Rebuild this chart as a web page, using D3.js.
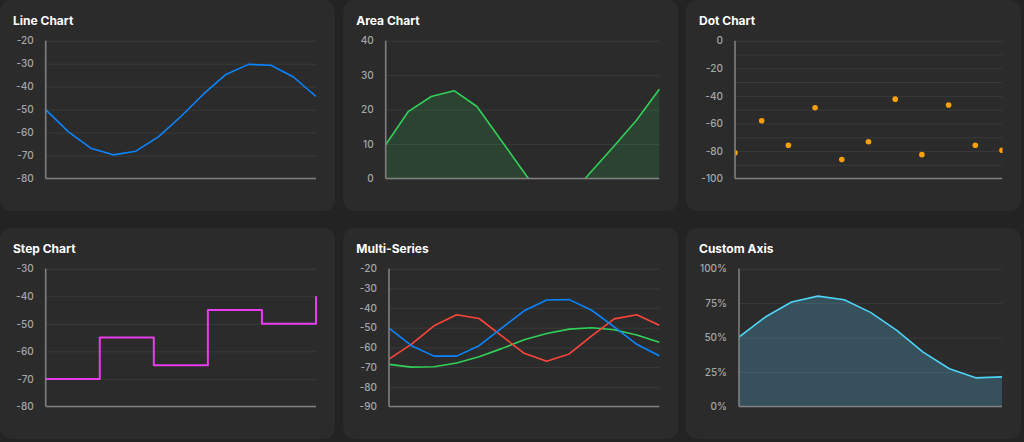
<!DOCTYPE html>
<html>
<head>
<meta charset="utf-8">
<script src="https://cdn.jsdelivr.net/npm/d3@7"></script>
<style>
html, body { margin: 0; padding: 0; background: #232323; }
svg { display: block; font-family: Inter, "Liberation Sans", sans-serif; }
</style>
</head>
<body>
<svg id="chart" width="1024" height="442"></svg>
<script>
// values
const titles = ["Line Chart", "Area Chart", "Dot Chart", "Step Chart", "Multi-Series", "Custom Axis"];

const lineValues = [-50, -59.6, -66.8, -69.7, -68.1, -61.9, -53, -43.3, -34.7, -30.3, -30.7, -35.8, -44.3];
const lineTicks = [-20, -30, -40, -50, -60, -70, -80];

const areaValues = [9.8, 19.5, 23.8, 25.5, 20.9, 11.7, 2.4, -6.8, -5.6, 1.9, 9.3, 16.9, 25.9];
const areaTicks = [0, 10, 20, 30, 40];

const dotValues = [-81.4, -58.1, -75.9, -48.7, -86.3, -73.3, -42.4, -82.7, -46.7, -75.9, -79.5];
const dotTicks = [0, -20, -40, -60, -80, -100];
const dotGrid = [0, -10, -20, -30, -40, -50, -60, -70, -80, -90, -100];

const stepValues = [-70, -55, -65, -45, -50, -40];
const stepTicks = [-30, -40, -50, -60, -70, -80];

const multiBlue = [-50.2, -59.1, -64.4, -64.4, -59.1, -50.2, -41.4, -35.9, -35.7, -41.1, -49.5, -58.4, -64.2];
const multiRed = [-65.9, -58.3, -49, -43.4, -45.3, -54.1, -63, -67, -63.3, -54.1, -45.5, -43.4, -48.7];
const multiGreen = [-68.6, -70, -69.8, -67.9, -64.7, -60.6, -56.1, -52.9, -50.7, -50, -51, -53.7, -57.4];
const multiTicks = [-20, -30, -40, -50, -60, -70, -80, -90];

const customValues = [0.504, 0.649, 0.758, 0.801, 0.775, 0.683, 0.552, 0.395, 0.274, 0.208, 0.215];
const customTicks = [0, 0.25, 0.5, 0.75, 1];

let cardW = 335;
let cardH = 211;
let cardX = [0, 343.3, 686];
let cardY = [0, 228];

let svg = d3.select("#chart");

let plainFmt = (d) => String(d);
let pctFmt = (d) => Math.round(d * 100) + "%";

// draws a card with its gridlines and axes, hands back the scales
let makePanel = (i, left, ticks, grid, fmt, n, clipPad) => {
    let cx = cardX[i % 3];
    let cy = cardY[Math.floor(i / 3)];
    let g = svg.append("g").attr("transform", "translate(" + cx + "," + cy + ")");

    g.append("rect")
    .attr("width", cardW)
    .attr("height", cardH)
    .attr("rx", 11)
    .attr("fill", "#2b2b2b");

    g.append("text")
    .attr("x", 13)
    .attr("y", 24.5)
    .attr("fill", "#ffffff")
    .attr("font-size", 12)
    .attr("font-weight", 700)
    .text(titles[i]);

    let top = 40.7;
    let bottom = 178.5;
    let right = 316;

    let x = d3.scaleLinear()
    .domain([0, n - 1])
    .range([left, right]);

    let y = d3.scaleLinear()
    .domain(d3.extent(ticks))
    .range([bottom, top]);

    let yAxis = d3.axisLeft(y)
    .tickValues(grid)
    .tickSize(-(right - left))
    .tickPadding(12)
    .tickFormat((d) => ticks.includes(d) ? fmt(d) : "");

    let ax = g.append("g")
    .attr("transform", "translate(" + left + ",0)")
    .call(yAxis);
    ax.select(".domain").remove();
    ax.selectAll(".tick line").attr("stroke", "#3a3a3a").attr("stroke-width", 1);
    ax.selectAll(".tick text")
    .attr("fill", "#a6a6a6")
    .attr("font-size", 10)
    .attr("font-weight", 500)
    .attr("font-family", "Inter, 'Liberation Sans', sans-serif");

    let pad = clipPad === undefined ? 1.2 : clipPad;
    g.append("clipPath")
    .attr("id", "clip" + i)
    .append("rect")
    .attr("x", left)
    .attr("y", top - 2)
    .attr("width", right - left + pad)
    .attr("height", bottom - top + 2);

    let plot = g.append("g").attr("clip-path", "url(#clip" + i + ")");

    // axis lines go on top later
    let finish = () => {
        g.append("line")
        .attr("x1", left).attr("x2", left)
        .attr("y1", top).attr("y2", bottom)
        .attr("stroke", "#808080")
        .attr("stroke-width", 1.6);
        g.append("line")
        .attr("x1", left).attr("x2", right)
        .attr("y1", bottom).attr("y2", bottom)
        .attr("stroke", "#808080")
        .attr("stroke-width", 1.6);
    };

    return {plot, x, y, finish};
}

let drawLine = (p, values, color, width, curve) => {
    let line = d3.line()
    .x((d, k) => p.x(k))
    .y((d) => p.y(d))
    .curve(curve || d3.curveLinear);
    p.plot.append("path")
    .datum(values)
    .attr("d", line)
    .attr("fill", "none")
    .attr("stroke", color)
    .attr("stroke-width", width)
    .attr("stroke-linejoin", "round");
}

let drawArea = (p, values, color, opacity) => {
    let area = d3.area()
    .x((d, k) => p.x(k))
    .y0(p.y(0))
    .y1((d) => p.y(d));
    p.plot.append("path")
    .datum(values)
    .attr("d", area)
    .attr("fill", color)
    .attr("fill-opacity", opacity);
}

// line chart
let p1 = makePanel(0, 45.7, lineTicks, lineTicks, plainFmt, lineValues.length);
drawLine(p1, lineValues, "#0a84ff", 1.6);
p1.finish();

// area chart
let p2 = makePanel(1, 42.4, areaTicks, areaTicks, plainFmt, areaValues.length);
drawArea(p2, areaValues, "#30d158", 0.15);
drawLine(p2, areaValues, "#30d158", 1.6);
p2.finish();

// dot chart
let p3 = makePanel(2, 49, dotTicks, dotGrid, plainFmt, dotValues.length, 0.5);
p3.plot.selectAll("circle")
.data(dotValues)
.enter()
.append("circle")
.attr("cx", (d, k) => p3.x(k))
.attr("cy", (d) => p3.y(d))
.attr("r", 2.8)
.attr("fill", "#ff9f0a");
p3.finish();

// step chart
let p4 = makePanel(3, 45.7, stepTicks, stepTicks, plainFmt, stepValues.length);
drawLine(p4, stepValues, "#e83cf0", 2, d3.curveStepAfter);
p4.finish();

// multi-series
let p5 = makePanel(4, 45.7, multiTicks, multiTicks, plainFmt, multiBlue.length);
drawLine(p5, multiGreen, "#30d158", 1.6);
drawLine(p5, multiRed, "#ff453a", 1.6);
drawLine(p5, multiBlue, "#0a84ff", 1.6);
p5.finish();

// custom axis
let p6 = makePanel(5, 53, customTicks, customTicks, pctFmt, customValues.length);
drawArea(p6, customValues, "#5ac8fa", 0.24);
drawLine(p6, customValues, "#4dd4f5", 1.6);
p6.finish();
</script>
</body>
</html>
